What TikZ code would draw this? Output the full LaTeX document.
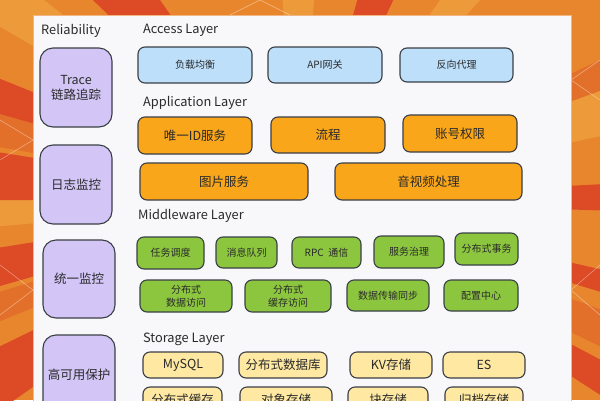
\documentclass[tikz,border=0pt]{standalone}
\usepackage{fontspec}
\setmainfont{Noto Sans CJK SC}
\definecolor{bgorange}{HTML}{E8862E}
\definecolor{bgred}{HTML}{DC4A26}
\definecolor{bgdark}{HTML}{E2702A}
\definecolor{bglight}{HTML}{EC9A3A}
\definecolor{panelc}{HTML}{F8F8FA}
\definecolor{boxline}{HTML}{3A3F46}
\definecolor{txt}{HTML}{2A2A2A}
\definecolor{purp}{HTML}{D3C6F7}
\definecolor{accblue}{HTML}{BDDFFA}
\definecolor{apporange}{HTML}{F9A61B}
\definecolor{midgreen}{HTML}{8CC63F}
\definecolor{stoyellow}{HTML}{FEE8A2}
\begin{document}
\begin{tikzpicture}[x=1pt,y=-1pt,
  box/.style={draw=boxline, line width=1.1pt, rounded corners=7pt, align=center, inner sep=0pt, text=txt},
  relbox/.style={box, fill=purp, rounded corners=13pt, minimum width=72pt, minimum height=79pt, font=\fontsize{12.5}{15}\selectfont},
  accbox/.style={box, fill=accblue, minimum width=114pt, minimum height=36pt, font=\fontsize{10}{12}\selectfont},
  appbox/.style={box, fill=apporange, minimum height=37pt, font=\fontsize{12.5}{15}\selectfont},
  midbox/.style={box, fill=midgreen, minimum height=32pt, font=\fontsize{10}{12.5}\selectfont},
  stobox/.style={box, fill=stoyellow, minimum height=26pt, font=\fontsize{12.5}{15}\selectfont},
  layer/.style={font=\fontsize{12.8}{14}\selectfont, text=txt, inner sep=0pt, anchor=west},
  wedge/.style={fill=bgred}
]
\useasboundingbox (0,0) rectangle (600,400);
\clip (0,0) rectangle (600,400);
% background sunburst
\fill[bgorange] (0,0) rectangle (600,400);
\foreach \a/\b in {-150/-142,-95/-86,-55/-48,175/180,125/135,40/48,-20/-12}{
  \fill[bglight] (300,200) -- +(\a:900) -- +(\b:900) -- cycle;
}
\foreach \a/\b in {-170/-164,158/163,-25/-20,20/26}{
  \fill[bgdark] (300,200) -- +(\a:900) -- +(\b:900) -- cycle;
}
\foreach \a/\b in {-164/-158,-180/-171,164/171,145/154,-136/-125,-74/-65,-3/2,13/17,28/33}{
  \fill[wedge] (300,200) -- +(\a:900) -- +(\b:900) -- cycle;
}
\draw[white, opacity=0.45, line width=0.5pt] (0,120) -- (33,140) -- (0,160);
\draw[white, opacity=0.45, line width=0.5pt] (0,265) -- (33,290) -- (0,315);
\draw[white, opacity=0.45, line width=0.5pt] (600,60) -- (571,80) -- (600,100);
\draw[white, opacity=0.45, line width=0.5pt] (600,265) -- (571,290) -- (600,315);
\draw[white, opacity=0.45, line width=0.5pt] (230,15) -- (260,0) -- (290,15);
% panel
\fill[panelc] (33,15) rectangle (571,420);
\draw[bgorange!60!white, line width=0.6pt] (33,420) -- (33,15) -- (571,15) -- (571,420);

% Reliability column
\node[layer] (relt) at (41,31) {Reliability};
\node[relbox] (trace) at (76,87.5) {Trace\\链路追踪};
\node[relbox] (log) at (76,184.5) {日志监控};
\node[relbox, minimum height=78pt] (mon) at (79,279) {统一监控};
\node[relbox] (ha) at (79,374.5) {高可用保护};

% Access layer
\node[layer] (acct) at (143,30) {Access Layer};
\node[accbox] (lb) at (195,65) {负载均衡};
\node[accbox] (api) at (325,65) {API网关};
\node[accbox, minimum width=113pt, minimum height=34pt] (rp) at (456.5,65) {反向代理};

% Application layer
\node[layer] (appt) at (143,103) {Application Layer};
\node[appbox, minimum width=114pt] (uid) at (195,135.5) {唯一ID服务};
\node[appbox, minimum width=114pt, minimum height=36pt] (flow) at (328,135) {流程};
\node[appbox, minimum width=114pt] (acc) at (460,133.5) {账号权限};
\node[appbox, minimum width=168pt] (img) at (224,181.5) {图片服务};
\node[appbox, minimum width=187pt] (av) at (428.5,181.5) {音视频处理};

% Middleware layer
\node[layer] (midt) at (138,216) {Middleware Layer};
\node[midbox, minimum width=67pt] (task) at (170.5,253) {任务调度};
\node[midbox, minimum width=61pt, minimum height=31pt] (mq) at (246.5,252.5) {消息队列};
\node[midbox, minimum width=69pt, minimum height=31pt] (rpc) at (326.5,252.5) {RPC\ \ 通信};
\node[midbox, minimum width=70pt] (gov) at (409,252) {服务治理};
\node[midbox, minimum width=63pt] (tx) at (486.5,249) {分布式事务};
\node[midbox, minimum width=92pt] (dda) at (186,296) {分布式\\数据访问};
\node[midbox, minimum width=86pt] (dca) at (288,296) {分布式\\缓存访问};
\node[midbox, minimum width=82pt, minimum height=31pt] (sync) at (388,295.5) {数据传输同步};
\node[midbox, minimum width=74pt, minimum height=31pt] (cfg) at (481,295.5) {配置中心};

% Storage layer
\node[layer] (stot) at (143,339) {Storage Layer};
\node[stobox, minimum width=80pt] (mysql) at (183,365) {MySQL};
\node[stobox, minimum width=88pt] (ddb) at (283,365) {分布式数据库};
\node[stobox, minimum width=82pt] (kv) at (391,365) {KV存储};
\node[stobox, minimum width=82pt] (es) at (484,365) {ES};
\node[stobox, minimum width=79pt] (dcache) at (182.5,400) {分布式缓存};
\node[stobox, minimum width=92pt] (obj) at (286,400) {对象存储};
\node[stobox, minimum width=80pt] (blk) at (388,400) {块存储};
\node[stobox, minimum width=78pt] (arch) at (484,400) {归档存储};
\end{tikzpicture}
\end{document}
